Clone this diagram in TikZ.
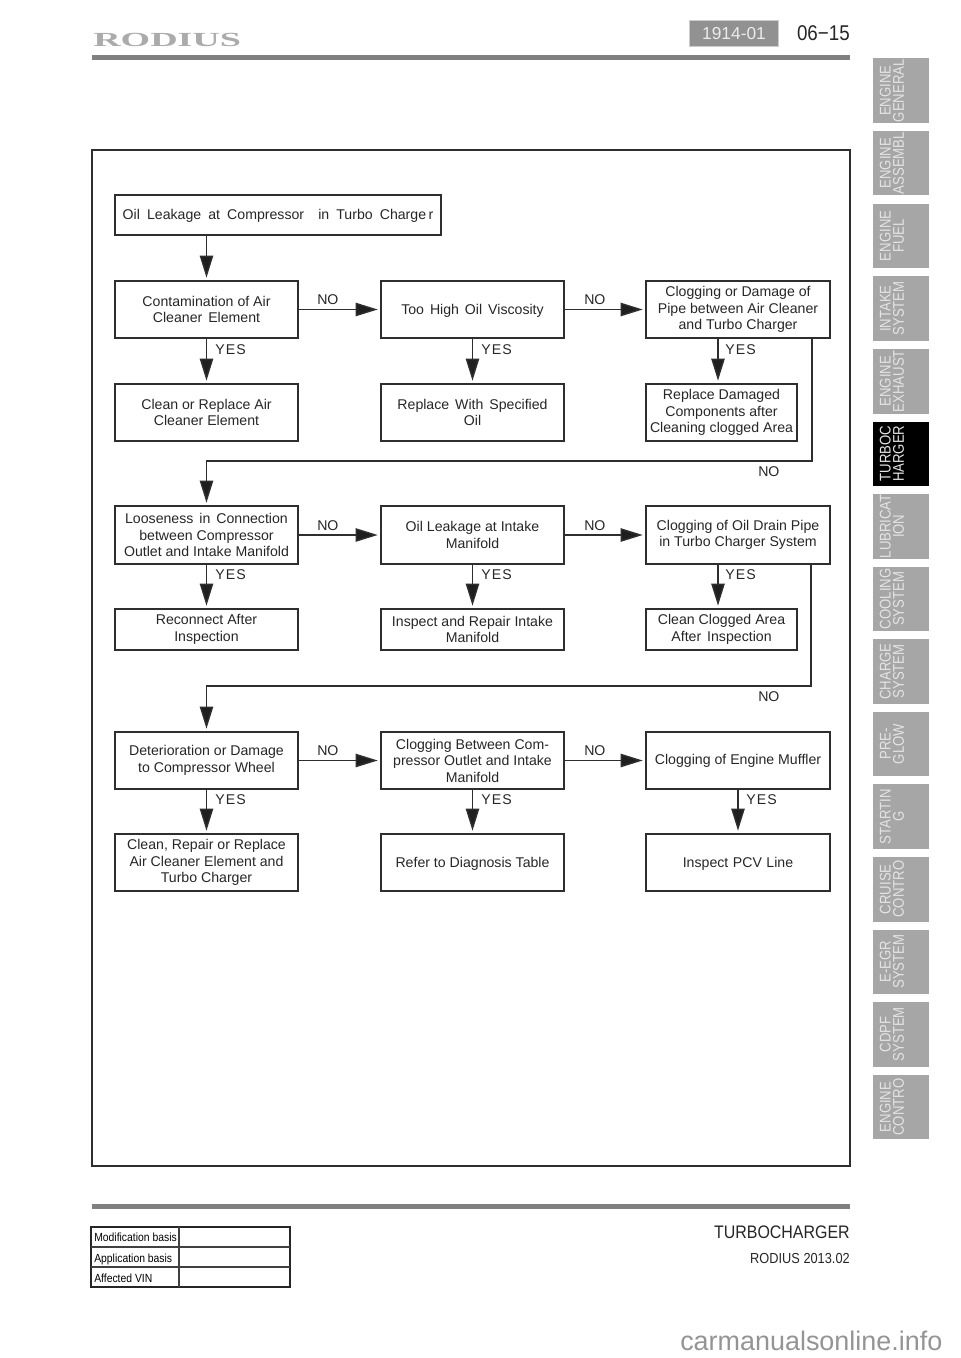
\documentclass[tikz,border=0pt]{standalone}
\usepackage{fontspec}
\setmainfont{Liberation Sans}
\newfontfamily\tabfont[FakeStretch=0.85]{Liberation Sans}
\newfontfamily\logofont[FakeStretch=1.9]{Liberation Serif}
\newfontfamily\smallfont[FakeStretch=0.88]{Liberation Sans}
\usetikzlibrary{arrows.meta,calc}
\definecolor{tabgray}{HTML}{A6A6A6}
\definecolor{tabtext}{HTML}{E4E4E4}
\definecolor{linegray}{HTML}{2E2E2E}
\definecolor{bargray}{HTML}{808080}
\tikzset{
  x=0.75pt,y=-0.75pt,
  boxnode/.style={draw=linegray,line width=1pt,inner sep=0pt,align=center,font=\fontsize{10.6pt}{12.4pt}\selectfont,text=black!85},
  conn/.style={draw=linegray,line width=1.1pt},
  arrowline/.style={conn,-{Triangle[length=16.5pt,width=10pt,fill=black!88]},shorten >=2pt},
  flowlabel/.style={font=\fontsize{10.6pt}{12pt}\selectfont,text=black!85,inner sep=0pt,anchor=base west},
  tabnode/.style={rotate=90,align=center,inner sep=0pt,font=\tabfont\fontsize{11.6pt}{9.9pt}\selectfont,text=tabtext},
}
% name, x1, y1, x2, y2, text
\newcommand{\flowbox}[6]{\node[boxnode,minimum width=#4*0.75pt-#2*0.75pt,minimum height=#5*0.75pt-#3*0.75pt] (#1) at ({(#2+#4)/2},{(#3+#5)/2}) {#6};}
% name, y1, fill, text
\newcommand{\sidetab}[4]{\fill[#3] (873,#2) rectangle (929,#2+64.5);
  \node[tabnode] (#1) at (892,#2+32.2) {#4};}
\newcommand{\wsp}{\hspace{0.42em}}
\newcommand{\wspb}{\hspace{0.5em}}
\newcommand{\low}[1]{\raisebox{0pt}[7.5pt][0pt]{#1}}
\begin{document}
\begin{tikzpicture}
\useasboundingbox (0,0) rectangle (960,1358);
% header
\node[font=\logofont\bfseries\fontsize{15pt}{15pt}\selectfont,text=black!33,inner sep=0pt,anchor=west] (logo) at (93,40) {RODIUS};
\fill[bargray] (92,55) rectangle (850,60);
\node[draw=black!20,fill=black!43,line width=0.8pt,minimum width=67pt,minimum height=20pt,inner sep=0pt,text=black!8,font=\fontsize{13pt}{13pt}\selectfont] (badge) at (734,33.5) {1914-01};
\node[font=\smallfont\fontsize{16pt}{16pt}\selectfont,inner sep=0pt,anchor=east,text=black!85] (page) at (850,33) {06−15};
% frame
\draw[linegray,line width=1.4pt] (92,150) rectangle (850,1166);
% boxes
\flowbox{top}{115}{195}{441}{235}{\low{Oil\wspb Leakage\wspb at\wspb Compressor\wspb\wspb in\wspb Turbo\wspb Charge\,r}}
\flowbox{a1}{115}{281}{298}{338}{Contamination of Air\\Cleaner\wsp Element}
\flowbox{a2}{381}{281}{564}{338}{\low{Too\wsp High\wsp Oil\wsp Viscosity}}
\flowbox{a3}{646}{281}{830}{338}{Clogging or Damage of\\Pipe between Air Cleaner\\and Turbo Charger}
\flowbox{b1}{115}{384}{298}{441}{Clean or Replace Air\\Cleaner Element}
\flowbox{b2}{381}{384}{564}{441}{Replace\wsp With\wsp Specified\\Oil}
\flowbox{b3}{646}{384}{797}{441}{Replace Damaged\\Components after\\Cleaning clogged Area}
\flowbox{c1}{115}{506}{298}{564}{Looseness\wsp in\wsp Connection\\between Compressor\\Outlet and Intake Manifold}
\flowbox{c2}{381}{506}{564}{564}{Oil Leakage at Intake\\Manifold}
\flowbox{c3}{646}{506}{830}{564}{Clogging of Oil Drain Pipe\\in Turbo Charger System}
\flowbox{d1}{115}{609}{298}{650}{Reconnect After\\Inspection}
\flowbox{d2}{381}{609}{564}{650}{Inspect and Repair Intake\\Manifold}
\flowbox{d3}{646}{609}{797}{650}{Clean Clogged Area\\After\wsp Inspection}
\flowbox{e1}{115}{732}{298}{789}{Deterioration or Damage\\to Compressor Wheel}
\flowbox{e2}{381}{732}{564}{789}{Clogging Between Com-\\pressor Outlet and Intake\\Manifold}
\flowbox{e3}{646}{732}{830}{789}{Clogging of Engine Muffler}
\flowbox{f1}{115}{834}{298}{891}{Clean, Repair or Replace\\Air Cleaner Element and\\Turbo Charger}
\flowbox{f2}{381}{834}{564}{891}{\low{Refer to Diagnosis Table}}
\flowbox{f3}{646}{834}{830}{891}{\low{Inspect\hspace{0.32em}PCV\hspace{0.32em}Line}}
% connectors
\draw[arrowline] (a1.north |- top.south) -- (a1.north);
\foreach \u/\v in {a1/a2,a2/a3,c1/c2,c2/c3,e1/e2,e2/e3}{\draw[arrowline] (\u.east) -- (\v.west);}
\foreach \u/\v in {a1/b1,a2/b2,c1/d1,c2/d2,e1/f1,e2/f2,e3/f3}{\draw[arrowline] (\u.south) -- (\v.north);}
\draw[arrowline] ([xshift=-15pt]a3.south) -- ([xshift=-15pt]a3.south |- b3.north);
\draw[arrowline] ([xshift=-15pt]c3.south) -- ([xshift=-15pt]c3.south |- d3.north);
\coordinate (turnA) at (c1.north |- 0,461);
\coordinate (turnB) at (e1.north |- 0,686);
\draw[arrowline] ([xshift=55.5pt]a3.south) |- (turnA) -- (c1.north);
\draw[arrowline] ([xshift=54.75pt]c3.south) |- (turnB) -- (e1.north);
% labels
\foreach \px/\py in {317/305,584/305,317/530,584/530,317/755,584/755,758/476,758/701}{\node[flowlabel] at (\px,\py) {NO};}
\foreach \px/\py in {215/354,481/354,725/354,215/579,481/579,725/579,215/804,481/804,746/804}{\node[flowlabel] at (\px,\py) {Y\kern0.08em E\kern0.08em S};}
% side tabs
\sidetab{t1}{58.5}{tabgray}{ENGINE\\GENERAL}
\sidetab{t2}{131}{tabgray}{ENGINE\\ASSEMBL}
\sidetab{t3}{203.7}{tabgray}{ENGINE\\FUEL}
\sidetab{t4}{276.3}{tabgray}{INTAKE\\SYSTEM}
\sidetab{t5}{349}{tabgray}{ENGINE\\EXHAUST}
\sidetab{t6}{421.5}{black}{TURBOC\\HARGER}
\sidetab{t7}{494}{tabgray}{LUBRICAT\\ION}
\sidetab{t8}{566.7}{tabgray}{COOLING\\SYSTEM}
\sidetab{t9}{639.2}{tabgray}{CHARGE\\SYSTEM}
\sidetab{t10}{711.8}{tabgray}{PRE-\\GLOW}
\sidetab{t11}{784.4}{tabgray}{STARTIN\\G}
\sidetab{t12}{857}{tabgray}{CRUISE\\CONTRO}
\sidetab{t13}{929.5}{tabgray}{E-EGR\\SYSTEM}
\sidetab{t14}{1002}{tabgray}{CDPF\\SYSTEM}
\sidetab{t15}{1074.8}{tabgray}{ENGINE\\CONTRO}
% footer
\fill[bargray] (92,1204) rectangle (850,1209);
\draw[black!85,line width=0.8pt] (91,1227) rectangle (290,1287);
\draw[black!75,line width=0.8pt] (91,1247) -- (290,1247) (91,1267) -- (290,1267) (179,1227) -- (179,1287);
\foreach \n/\py/\t in {m1/1241/Modification basis,m2/1262/Application basis,m3/1282/Affected VIN}{\node[font=\smallfont\fontsize{8.85pt}{9pt}\selectfont,inner sep=0pt,anchor=base west] (\n) at (94,\py) {\t};}
\node[font=\smallfont\fontsize{13.6pt}{14pt}\selectfont,inner sep=0pt,anchor=east,text=black!85] (sec) at (850,1232) {TURBOCHARGER};
\node[font=\smallfont\fontsize{10.9pt}{11pt}\selectfont,inner sep=0pt,anchor=east,text=black!85] (ver) at (850,1258) {RODIUS 2013.02};
\node[font=\fontsize{20.2pt}{21pt}\selectfont,inner sep=0pt,anchor=base west,text=black!42] (wm) at (680,1350) {carmanualsonline.info};
\end{tikzpicture}
\end{document}
